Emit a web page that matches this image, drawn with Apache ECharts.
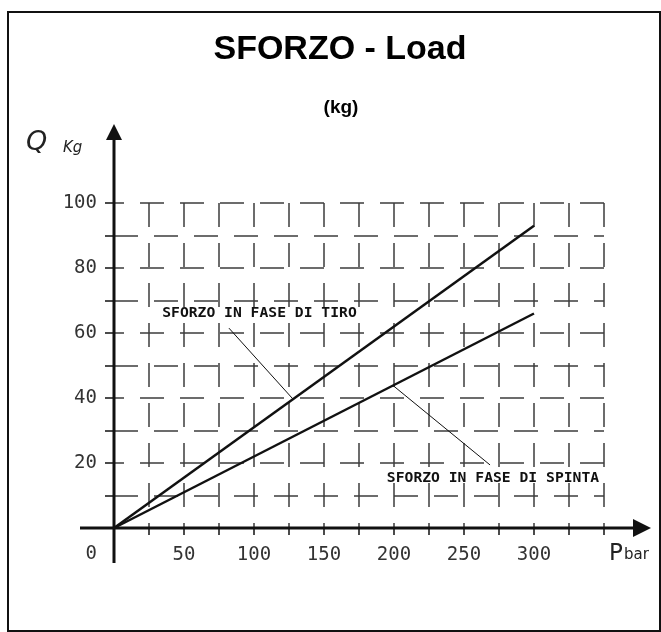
<!DOCTYPE html>
<html>
<head>
<meta charset="utf-8">
<script src="https://cdn.jsdelivr.net/npm/echarts@6/dist/echarts.min.js"></script>
<style>
  html, body { margin: 0; padding: 0; background: #fff; }
  #chart { width: 661px; height: 632px; }
</style>
</head>
<body>
<div id="chart"></div>
<script>
// Cylinder force versus pressure
const pressureBar = [0, 300];          // P (bar)
const loadTiro = [0, 93];              // Q (kg), pulling stroke
const loadSpinta = [0, 66];            // Q (kg), pushing stroke
const seriesNames = ['SFORZO IN FASE DI TIRO', 'SFORZO IN FASE DI SPINTA'];
const xLabelValues = [50, 100, 150, 200, 250, 300];
const yLabelValues = [20, 40, 60, 80, 100];
const titleText = 'SFORZO - Load';
const subtitleText = '(kg)';

const INK = '#111';
const GRID_INK = '#3c3c3c';
const LABEL_INK = '#333';
const MONO = '"DejaVu Sans Mono", monospace';

function pairs(xs, ys) { return xs.map((x, i) => [x, ys[i]]); }
function yOnLine(xs, ys, x) {
  const k = (ys[1] - ys[0]) / (xs[1] - xs[0]);
  return ys[0] + k * (x - xs[0]);
}

// where the callout texts sit and where their leaders start (data units)
const callouts = [
  { text: seriesNames[0], at: [103.9, 66.2], leaderFrom: [82.1, 61.5], leaderX: 127.9, ys: loadTiro },
  { text: seriesNames[1], at: [270.7, 15.4], leaderFrom: [268.6, 19.4], leaderX: 199.3, ys: loadSpinta }
];

const chart = echarts.init(document.getElementById('chart'), null, { renderer: 'canvas' });

const dashed = (offset) => ({ color: GRID_INK, width: 1.5, type: [24, 16], dashOffset: offset });

chart.setOption({
  animation: false,
  backgroundColor: '#fff',
  grid: { left: 114, top: 203, width: 490, height: 325, containLabel: false },
  xAxis: {
    type: 'value', min: 0, max: 350, interval: 50,
    axisLine: { show: false },
    axisTick: { show: true, inside: false, length: 7, lineStyle: { color: INK, width: 1.5 } },
    minorTick: { show: true, splitNumber: 2, length: 7, lineStyle: { color: INK, width: 1.5 } },
    splitLine: { show: true, lineStyle: dashed(0) },
    minorSplitLine: { show: true, lineStyle: dashed(0) },
    axisLabel: {
      margin: 18, color: LABEL_INK, fontFamily: MONO, fontSize: 19,
      formatter: v => xLabelValues.includes(v) ? String(v) : ''
    }
  },
  yAxis: {
    type: 'value', min: 0, max: 100, interval: 20,
    axisLine: { show: false },
    axisTick: { show: true, inside: false, length: 9, lineStyle: { color: INK, width: 1.5 } },
    minorTick: { show: true, splitNumber: 2, length: 9, lineStyle: { color: INK, width: 1.5 } },
    splitLine: { show: true, lineStyle: dashed(14) },
    minorSplitLine: { show: true, lineStyle: dashed(0) },
    axisLabel: {
      margin: 17, color: LABEL_INK, fontFamily: MONO, fontSize: 19,
      formatter: v => yLabelValues.includes(v) ? String(v) : ''
    }
  },
  series: [
    {
      name: seriesNames[0], type: 'line', data: pairs(pressureBar, loadTiro),
      symbol: 'none', lineStyle: { color: INK, width: 2.5 }, z: 5
    },
    {
      name: seriesNames[1], type: 'line', data: pairs(pressureBar, loadSpinta),
      symbol: 'none', lineStyle: { color: INK, width: 2.5 }, z: 5
    }
  ].map((s, i) => Object.assign(s, {
    markLine: {
      silent: true, symbol: 'none', label: { show: false },
      lineStyle: { color: INK, width: 1, type: 'solid' },
      data: [[
        { coord: callouts[i].leaderFrom },
        { coord: [callouts[i].leaderX, yOnLine(pressureBar, callouts[i].ys, callouts[i].leaderX)] }
      ]]
    }
  }))
});

// decorations placed from the axes' own pixel mapping
const px = (p) => chart.convertToPixel({ gridIndex: 0 }, p);
const O = px([0, 0]);
const yMaxPx = px([0, 100])[1];
const xMaxPx = px([350, 0])[0];

const yTop = yMaxPx - 79;
const xRight = xMaxPx + 47;

const graphics = [
  // frame
  { type: 'rect', shape: { x: 8, y: 12, width: 652, height: 619 },
    style: { fill: 'none', stroke: INK, lineWidth: 2 }, z: 1 },
  // titles
  { type: 'text', x: 340, y: 50, z: 10,
    style: { text: titleText, font: 'bold 34px "Liberation Sans", Arial, sans-serif',
      fill: '#000', align: 'center', verticalAlign: 'middle' } },
  { type: 'text', x: 341, y: 108, z: 10,
    style: { text: subtitleText, font: 'bold 19px "Liberation Sans", Arial, sans-serif',
      fill: '#000', align: 'center', verticalAlign: 'middle' } },
  // axes
  { type: 'line', z: 20, shape: { x1: O[0], y1: yTop + 10, x2: O[0], y2: O[1] + 35 },
    style: { stroke: INK, lineWidth: 3 } },
  { type: 'polygon', z: 20, shape: { points: [[O[0], yTop], [O[0] - 8, yTop + 16], [O[0] + 8, yTop + 16]] },
    style: { fill: INK } },
  { type: 'line', z: 20, shape: { x1: O[0] - 34, y1: O[1], x2: xRight - 10, y2: O[1] },
    style: { stroke: INK, lineWidth: 3 } },
  { type: 'polygon', z: 20, shape: { points: [[xRight, O[1]], [xRight - 18, O[1] - 9], [xRight - 18, O[1] + 9]] },
    style: { fill: INK } },
  // axis names
  { type: 'text', x: 26, y: 143, z: 10,
    style: { text: 'Q', font: 'italic 27px "DejaVu Sans", sans-serif', fill: '#222',
      align: 'left', verticalAlign: 'middle' } },
  { type: 'text', x: 63, y: 148, z: 10,
    style: { text: 'Kg', font: 'italic 15px "DejaVu Sans", sans-serif', fill: '#222',
      align: 'left', verticalAlign: 'middle' } },
  { type: 'text', x: O[0] - 17, y: O[1] + 26, z: 10,
    style: { text: '0', font: '19px ' + MONO, fill: LABEL_INK, align: 'right', verticalAlign: 'middle' } },
  { type: 'text', x: 609, y: 554, z: 10,
    style: { text: 'P', font: '23px "DejaVu Sans", sans-serif', fill: '#222', align: 'left', verticalAlign: 'middle' } },
  { type: 'text', x: 624, y: 563, z: 10,
    style: { text: 'bar', font: '15px "DejaVu Sans", sans-serif', fill: '#222', align: 'left', verticalAlign: 'bottom' } }
];

callouts.forEach(c => {
  const p = px(c.at);
  graphics.push({ type: 'text', x: p[0], y: p[1], z: 10,
    style: { text: c.text, font: 'bold 14.7px ' + MONO, fill: INK,
      align: 'center', verticalAlign: 'middle' } });
});

chart.setOption({ graphic: graphics });
</script>
</body>
</html>
